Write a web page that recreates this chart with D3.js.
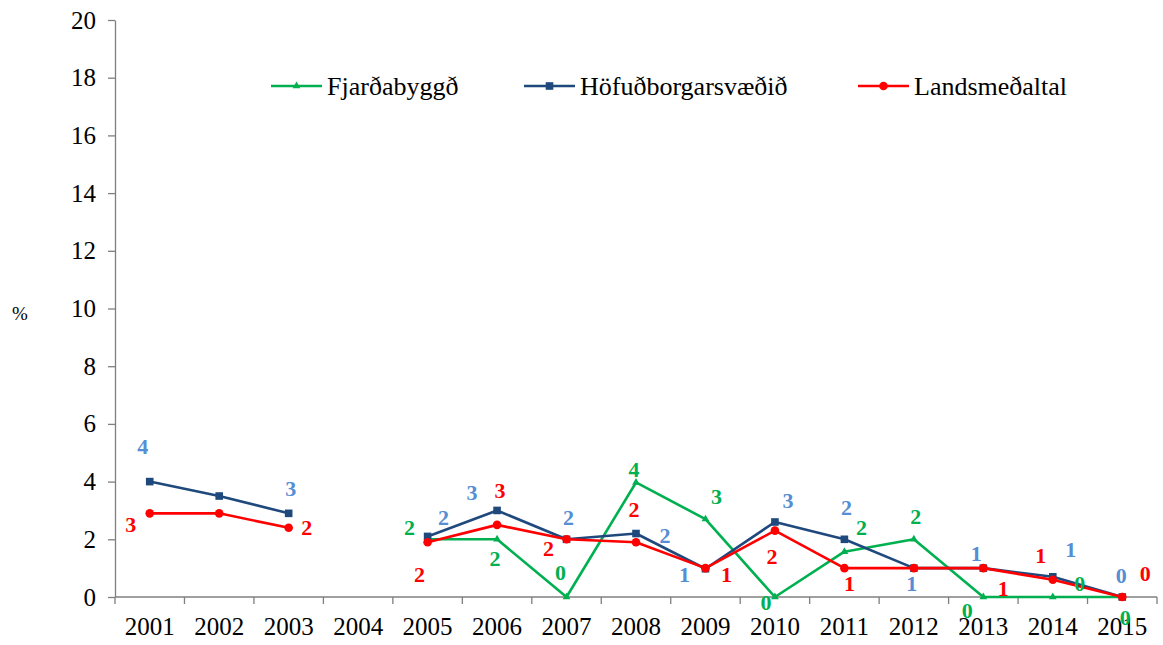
<!DOCTYPE html>
<html>
<head>
<meta charset="utf-8">
<script src="https://cdn.jsdelivr.net/npm/d3@7"></script>
<style>
  body { margin: 0; background: #fff; }
  svg text { font-family: 'Liberation Serif', Tinos, 'Times New Roman', Times, 'DejaVu Serif', serif !important; }
</style>
</head>
<body>
<svg id="chart"></svg>
<script>
// chart data
const years = ['2001', '2002', '2003', '2004', '2005', '2006', '2007', '2008',
  '2009', '2010', '2011', '2012', '2013', '2014', '2015'];

const fjardabyggd = [null, null, null, null, 2.0, 2.0, 0.0, 3.97, 2.7, 0.0, 1.57, 2.0, 0.0, 0.0, 0.0];
const hofudborgar = [4.0, 3.5, 2.9, null, 2.1, 3.0, 2.0, 2.2, 0.98, 2.6, 2.0, 1.0, 1.0, 0.7, 0.0];
const landsmedaltal = [2.9, 2.9, 2.4, null, 1.9, 2.5, 2.0, 1.9, 1.0, 2.3, 1.0, 1.0, 1.0, 0.6, 0.0];

// rounded value labels shown next to points (null = no label)
const fjardLabels = [null, null, null, null, '2', '2', '0', '4', '3', '0', '2', '2', '0', '0', '0'];
const hofudLabels = ['4', null, '3', null, '2', '3', '2', '2', '1', '3', '2', '1', '1', '1', '0'];
const landsLabels = ['3', null, '2', null, '2', '3', '2', '2', '1', '2', '1', null, '1', '1', '0'];

// label offsets from their point, in px
const fjardOffsets = [null, null, null, null, [-18, -12], [-2, 19], [-6, -25], [-2, -13], [11, -23],
  [-9, 5], [17, -24], [2, -23], [-16, 13], [27, -14], [3, 20]];
const hofudOffsets = [[-7, -35], null, [2, -25], null, [16, -19], [-25, -18], [2, -22], [29, 2],
  [-21, 6], [13, -22], [2, -32], [-2, 15], [-7, -15], [18, -28], [-1, -22]];
const landsOffsets = [[-19, 11], null, [18, 0], null, [-8, 32], [3, -35], [-18, 9], [-2, -33],
  [21, 6], [-3, 26], [5, 15], null, [20, 20], [-12, -24], [23, -24]];

const yTicks = [0, 2, 4, 6, 8, 10, 12, 14, 16, 18, 20];

const series = [
  { name: 'Fjarðabyggð', values: fjardabyggd, labels: fjardLabels, offsets: fjardOffsets,
    color: '#00B050', labelColor: '#00B050', marker: 'triangle' },
  { name: 'Höfuðborgarsvæðið', values: hofudborgar, labels: hofudLabels, offsets: hofudOffsets,
    color: '#1F497D', labelColor: '#558ED5', marker: 'square' },
  { name: 'Landsmeðaltal', values: landsmedaltal, labels: landsLabels, offsets: landsOffsets,
    color: '#FF0000', labelColor: '#FF0000', marker: 'circle' }
];

const width = 1163, height = 645;
const margin = { top: 20, right: 6, bottom: 48, left: 115 };
const innerW = width - margin.left - margin.right;
const innerH = height - margin.top - margin.bottom;

const svg = d3.select('#chart')
  .attr('width', width)
  .attr('height', height);

const chart = svg.append('g')
  .attr('transform', `translate(${margin.left},${margin.top})`);

const xScale = d3.scaleBand().domain(years).range([0, innerW]).padding(0);
const yScale = d3.scaleLinear().domain([0, 20]).range([innerH, 0]);

const axisColor = '#7f7f7f';

// y axis
const yAxis = d3.axisLeft(yScale).tickValues(yTicks).tickSize(7).tickSizeOuter(0).tickPadding(12);
const yAxisG = chart.append('g').call(yAxis).attr('font-family', null).attr('font-size', null);
yAxisG.select('.domain').attr('stroke', axisColor).attr('stroke-width', 1.3);
yAxisG.selectAll('.tick line').attr('stroke', axisColor).attr('stroke-width', 1.3);
yAxisG.selectAll('.tick text')
  .attr('fill', '#000')
  .style('font-size', '25px');

// x axis: ticks at category boundaries
const xAxisG = chart.append('g').attr('transform', `translate(0,${innerH})`);
xAxisG.append('line')
  .attr('x1', 0).attr('x2', innerW)
  .attr('stroke', axisColor).attr('stroke-width', 1.3);
const boundaries = years.map(y => xScale(y)).concat([innerW]);
xAxisG.selectAll('.xtick')
  .data(boundaries)
  .join('line')
  .attr('class', 'xtick')
  .attr('x1', d => d).attr('x2', d => d)
  .attr('y1', 0).attr('y2', 7)
  .attr('stroke', axisColor).attr('stroke-width', 1.3);
xAxisG.selectAll('.xlabel')
  .data(years)
  .join('text')
  .attr('class', 'xlabel')
  .attr('x', d => xScale(d) + xScale.bandwidth() / 2)
  .attr('y', 38)
  .attr('text-anchor', 'middle')
  .style('font-size', '25px')
  .text(d => d);

// % label
svg.append('text')
  .attr('x', 20)
  .attr('y', 320)
  .attr('text-anchor', 'middle')
  .style('font-size', '19px')
  .text('%');

const cx = i => xScale(years[i]) + xScale.bandwidth() / 2;

const line = d3.line()
  .defined(d => d != null)
  .x((d, i) => cx(i))
  .y(d => yScale(d));

function drawMarker(g, type, x, y, color) {
  if (type === 'square') {
    g.append('rect').attr('x', x - 3.8).attr('y', y - 3.8)
      .attr('width', 7.6).attr('height', 7.6).attr('fill', color);
  } else if (type === 'circle') {
    g.append('circle').attr('cx', x).attr('cy', y).attr('r', 4.3).attr('fill', color);
  } else {
    g.append('path')
      .attr('d', d3.symbol().type(d3.symbolTriangle).size(26)())
      .attr('transform', `translate(${x},${y})`)
      .attr('fill', color);
  }
}

// lines and markers
series.forEach(s => {
  const g = chart.append('g');
  g.append('path')
    .datum(s.values)
    .attr('d', line)
    .attr('fill', 'none')
    .attr('stroke', s.color)
    .attr('stroke-width', 2.6)
    .attr('stroke-linejoin', 'round');
  s.values.forEach((v, i) => {
    if (v != null) drawMarker(g, s.marker, cx(i), yScale(v), s.color);
  });
});

// data labels
series.forEach(s => {
  s.values.forEach((v, i) => {
    if (v == null || s.labels[i] == null) return;
    const off = s.offsets[i];
    chart.append('text')
      .attr('x', cx(i) + off[0])
      .attr('y', yScale(v) + off[1])
      .attr('dy', '0.35em')
      .attr('text-anchor', 'middle')
      .attr('fill', s.labelColor)
      .style('font-size', '22px')
      .style('font-weight', 'bold')
      .text(s.labels[i]);
  });
});

// legend
const legendX = [271, 524, 858];
const legend = svg.append('g').attr('transform', 'translate(0,86)');
series.forEach((s, i) => {
  const row = legend.append('g').attr('transform', `translate(${legendX[i]},0)`);
  row.append('line')
    .attr('x1', 0).attr('x2', 51)
    .attr('stroke', s.color).attr('stroke-width', 2.6);
  drawMarker(row, s.marker, 25.5, 0, s.color);
  row.append('text')
    .attr('x', 56)
    .attr('y', 0)
    .attr('dy', '0.34em')
    .style('font-size', '26px')
    .text(s.name);
});
</script>
</body>
</html>
